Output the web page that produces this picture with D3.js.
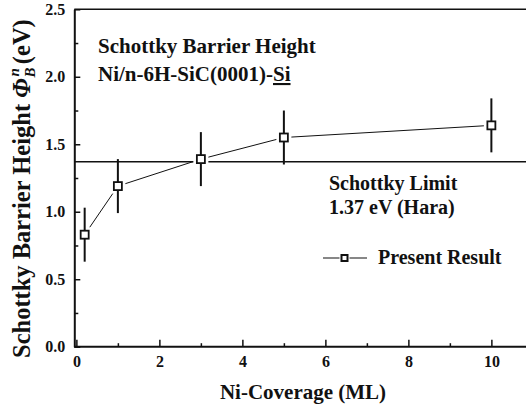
<!DOCTYPE html>
<html>
<head>
<meta charset="utf-8">
<script src="https://cdn.jsdelivr.net/npm/d3@7"></script>
<style>
  body { margin: 0; background: #fff; }
  svg { display: block; }
</style>
</head>
<body>
<div id="holder"></div>
<script>
// Ni coverage (ML) vs Schottky barrier height (eV)
const coverage = [0.2, 1, 3, 5, 10];
const barrier = [0.83, 1.19, 1.39, 1.55, 1.64];
const errBar = [0.2, 0.2, 0.2, 0.2, 0.2];
const schottkyLimit = 1.37;
const xMajorTicks = [0, 2, 4, 6, 8, 10];
const xMinorTicks = [1, 3, 5, 7, 9];
const yMajorTicks = [0, 0.5, 1.0, 1.5, 2.0, 2.5];
const yMinorTicks = [0.25, 0.75, 1.25, 1.75, 2.25];

const w = 526, h = 410;
const padLeft = 74.3, padTop = 9.3, padBottom = 346.7;
const FONT = '"Liberation Serif", "Times New Roman", serif';
const INK = '#111';

const svg = d3.select('#holder')
    .append('svg')
    .attr('width', w)
    .attr('height', h);

// every label in bold serif
const serif = (sel, size) => sel
    .style('font-family', FONT)
    .style('font-weight', 'bold')
    .style('font-size', size + 'px')
    .attr('fill', INK);

const xScale = d3.scaleLinear()
    .domain([-0.05, 11])
    .range([padLeft, padLeft + 11.05 * 41.5]);

const yScale = d3.scaleLinear()
    .domain([0, 2.5])
    .range([padBottom, padTop]);

// axes, ticks pointing inward
const xAxis = d3.axisBottom(xScale)
    .tickValues(xMajorTicks)
    .tickSizeInner(-7)
    .tickSizeOuter(0)
    .tickPadding(9)
    .tickFormat(d3.format("d"));

const xMinor = d3.axisBottom(xScale)
    .tickValues(xMinorTicks)
    .tickSizeInner(-3.5)
    .tickSizeOuter(0)
    .tickFormat("");

const yAxis = d3.axisLeft(yScale)
    .tickValues(yMajorTicks)
    .tickSizeInner(-6)
    .tickSizeOuter(0)
    .tickPadding(9)
    .tickFormat(d3.format(".1f"));

const yMinor = d3.axisLeft(yScale)
    .tickValues(yMinorTicks)
    .tickSizeInner(-4)
    .tickSizeOuter(0)
    .tickFormat("");

const styleAxis = g => {
    g.selectAll('line').attr('stroke', INK).attr('stroke-width', 1.5);
    g.select('.domain').attr('stroke', INK).attr('stroke-width', 2);
    g.selectAll('text').call(serif, 16);
};

svg.append('g')
    .attr('transform', `translate(0,${padBottom})`)
    .call(xAxis)
    .call(styleAxis)
    .call(g => g.select('.domain').attr('d', `M${padLeft},0H${w}`));

svg.append('g')
    .attr('transform', `translate(0,${padBottom})`)
    .call(xMinor)
    .call(g => g.select('.domain').remove())
    .call(styleAxis);

svg.append('g')
    .attr('transform', `translate(${padLeft},0)`)
    .call(yAxis)
    .call(styleAxis);

svg.append('g')
    .attr('transform', `translate(${padLeft},0)`)
    .call(yMinor)
    .call(g => g.select('.domain').remove())
    .call(styleAxis);

// top frame
svg.append('line')
    .attr('x1', padLeft).attr('x2', w)
    .attr('y1', yScale(2.5)).attr('y2', yScale(2.5))
    .attr('stroke', INK).attr('stroke-width', 1.5);

// Schottky limit line
svg.append('line')
    .attr('x1', padLeft).attr('x2', w)
    .attr('y1', yScale(schottkyLimit)).attr('y2', yScale(schottkyLimit))
    .attr('stroke', INK).attr('stroke-width', 1.5);

const data = coverage.map((c, i) => ({x: c, y: barrier[i], e: errBar[i]}));

// connecting line
svg.append('path')
    .datum(data)
    .attr('fill', 'none')
    .attr('stroke', INK)
    .attr('stroke-width', 1)
    .attr('d', d3.line().x(d => xScale(d.x)).y(d => yScale(d.y)));

// white halo so the line stops short of the markers
svg.selectAll('rect.halo')
    .data(data)
    .enter()
    .append('rect')
    .attr('class', 'halo')
    .attr('x', d => xScale(d.x) - 7.5)
    .attr('y', d => yScale(d.y) - 7.5)
    .attr('width', 15)
    .attr('height', 15)
    .attr('fill', '#fff');

// error bars
svg.selectAll('line.err')
    .data(data)
    .enter()
    .append('line')
    .attr('class', 'err')
    .attr('x1', d => xScale(d.x)).attr('x2', d => xScale(d.x))
    .attr('y1', d => yScale(d.y - d.e)).attr('y2', d => yScale(d.y + d.e))
    .attr('stroke', INK)
    .attr('stroke-width', 2);

// markers
svg.selectAll('rect.pt')
    .data(data)
    .enter()
    .append('rect')
    .attr('class', 'pt')
    .attr('x', d => xScale(d.x) - 4)
    .attr('y', d => yScale(d.y) - 4)
    .attr('width', 8)
    .attr('height', 8)
    .attr('fill', '#fff')
    .attr('stroke', INK)
    .attr('stroke-width', 1.8);

// annotation texts
svg.append('text').attr('x', 98).attr('y', 53)
    .call(serif, 21)
    .text('Schottky Barrier Height');
svg.append('text').attr('x', 98).attr('y', 81)
    .call(serif, 21)
    .call(t => t.append('tspan').text('Ni/n-6H-SiC(0001)-'))
    .call(t => t.append('tspan').style('text-decoration', 'underline').text('Si'));

svg.append('text').attr('x', 329).attr('y', 190).call(serif, 20).text('Schottky Limit');
svg.append('text').attr('x', 329).attr('y', 214).call(serif, 20).text('1.37 eV (Hara)');

// legend
const legend = svg.append('g').attr('transform', 'translate(323,258)');
legend.append('line')
    .attr('x1', 0).attr('x2', 44)
    .attr('stroke', INK).attr('stroke-width', 1.2);
legend.append('rect')
    .attr('x', 21.5 - 5).attr('y', -5)
    .attr('width', 10).attr('height', 10)
    .attr('fill', '#fff');
legend.append('rect')
    .attr('x', 21.5 - 3).attr('y', -3)
    .attr('width', 6).attr('height', 6)
    .attr('fill', '#fff').attr('stroke', INK).attr('stroke-width', 2);
legend.append('text')
    .attr('x', 55).attr('y', 6)
    .call(serif, 20)
    .text('Present Result');

// axis labels
svg.append('text')
    .attr('x', 303)
    .attr('y', 399)
    .call(serif, 21)
    .style('text-anchor', 'middle')
    .text('Ni-Coverage (ML)');

svg.append('text')
    .attr('transform', 'translate(30,358) rotate(-90)')
    .call(serif, 24.5)
    .call(t => t.append('tspan').text('Schottky Barrier Height '))
    .call(t => t.append('tspan').style('font-style', 'italic').text('Φ'))
    .call(t => t.append('tspan').style('font-style', 'italic').style('font-size', '15px').attr('dx', 1).attr('dy', 5).text('B'))
    .call(t => t.append('tspan').style('font-style', 'italic').style('font-size', '15px').attr('dx', -9).attr('dy', -16).text('n'))
    .call(t => t.append('tspan').attr('dx', 4).attr('dy', 11).text('(eV)'));
</script>
</body>
</html>
